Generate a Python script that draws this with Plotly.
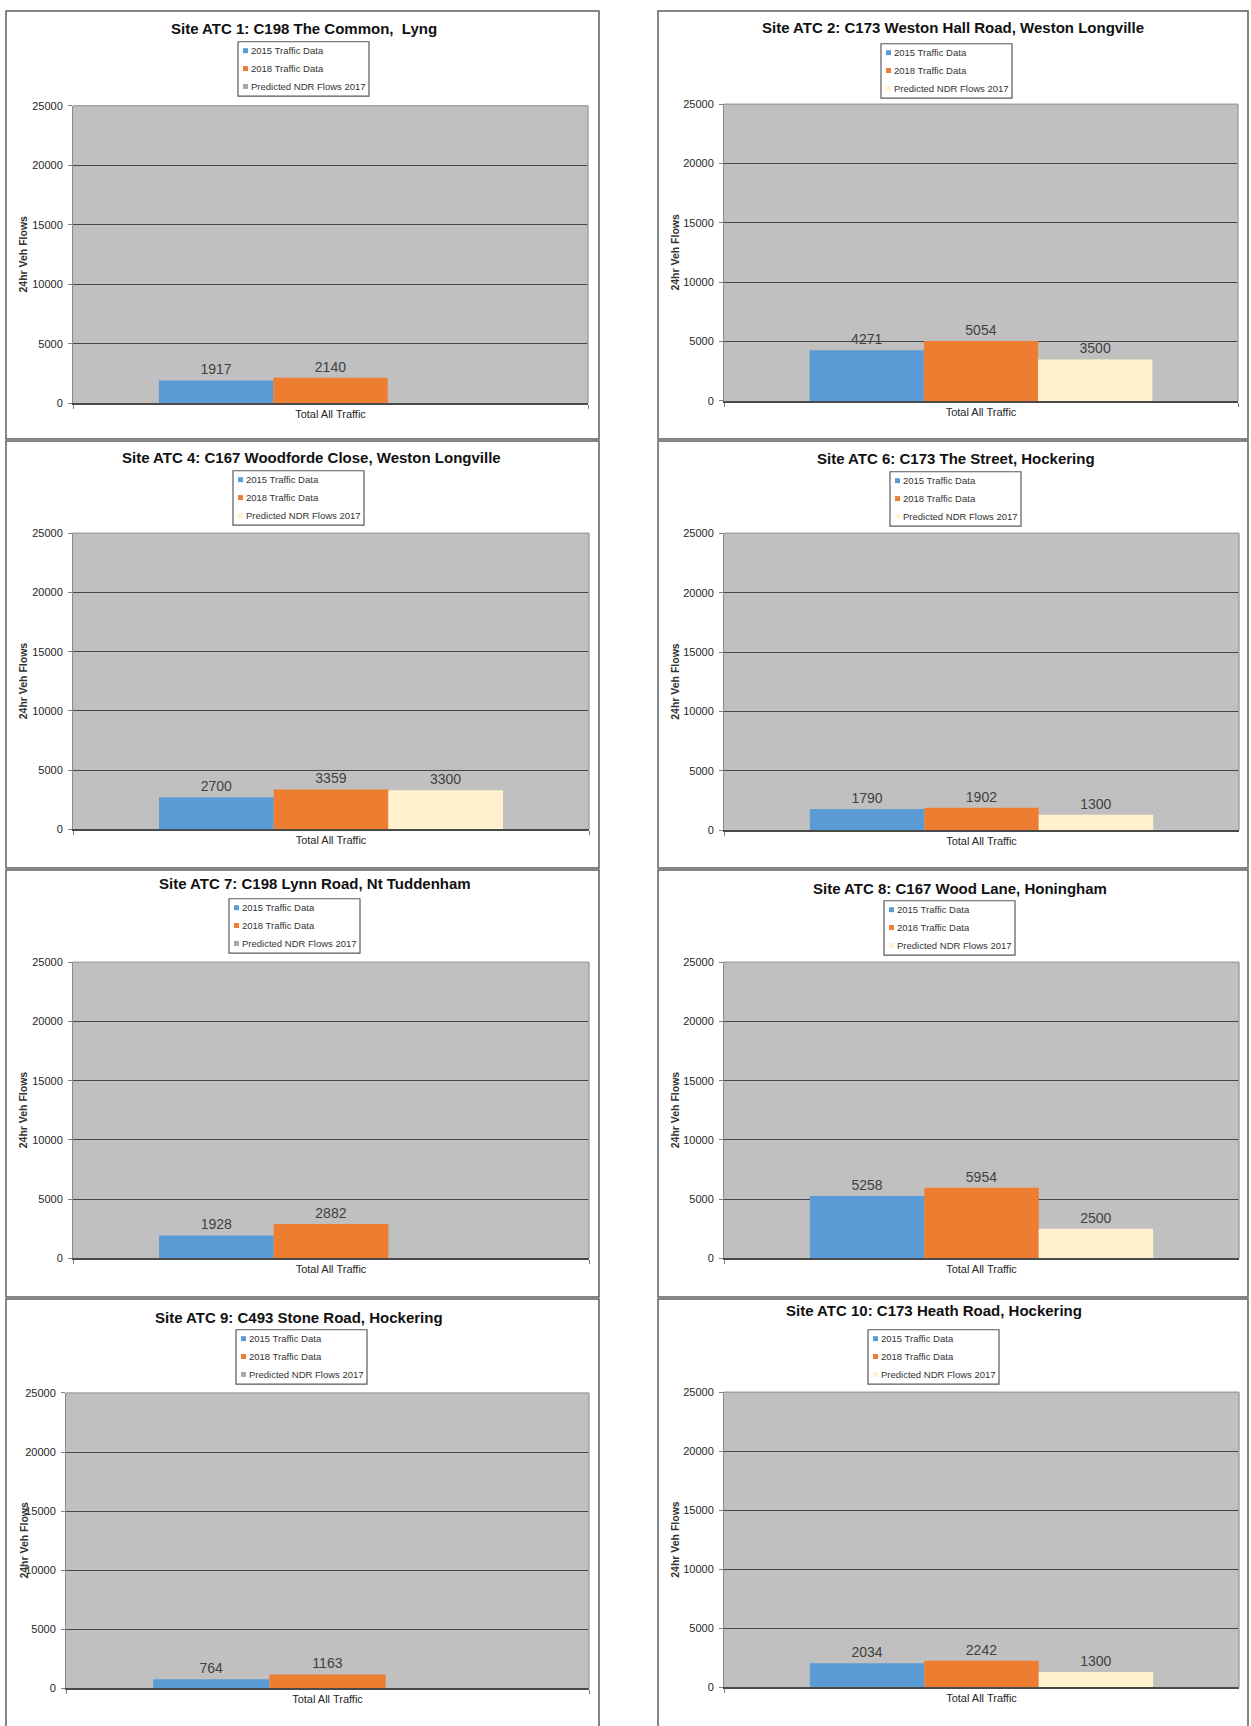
import plotly.graph_objects as go

W, H = 1251, 1726

# ---- data -------------------------------------------------------------
site_titles = [
    "Site ATC 1: C198 The Common,  Lyng",
    "Site ATC 2: C173 Weston Hall Road, Weston Longville",
    "Site ATC 4: C167 Woodforde Close, Weston Longville",
    "Site ATC 6: C173 The Street, Hockering",
    "Site ATC 7: C198 Lynn Road, Nt Tuddenham",
    "Site ATC 8: C167 Wood Lane, Honingham",
    "Site ATC 9: C493 Stone Road, Hockering",
    "Site ATC 10: C173 Heath Road, Hockering",
]
category = ["Total All Traffic"]
traffic_2015 = [1917, 4271, 2700, 1790, 1928, 5258, 764, 2034]
traffic_2018 = [2140, 5054, 3359, 1902, 2882, 5954, 1163, 2242]
ndr_2017 = [None, 3500, 3300, 1300, None, 2500, None, 1300]
series_names = ["2015 Traffic Data", "2018 Traffic Data", "Predicted NDR Flows 2017"]
y_ticks = [0, 5000, 10000, 15000, 20000, 25000]
y_title = "24hr Veh Flows"

# ---- styling ----------------------------------------------------------
FONT = "Liberation Sans, Arial, sans-serif"
C_2015 = "#5b9bd5"
C_2018 = "#ed7d31"
C_NDR = "#fff2cc"
C_EMPTY = "#a6a6a6"
PLOT_BG = "#c0c0c0"
GRID = "#454545"

# panel geometry in page pixels
# plot: (left, right, top, bottom); title centre; legend top-left; y-title x
panels = [
    dict(plot=(73, 588, 100.5, 400), title=(304, 23), legend=(238, 36), ytx=23),
    dict(plot=(724, 1238, 99, 397.7), title=(953, 22), legend=(881, 38), ytx=675),
    dict(plot=(73, 589, 531, 829), title=(311, 455), legend=(233, 468), ytx=23),
    dict(plot=(724, 1239, 531, 830), title=(956, 456), legend=(890, 469), ytx=675),
    dict(plot=(73, 589, 963, 1261), title=(315, 884), legend=(229, 899), ytx=23),
    dict(plot=(724, 1239, 963, 1261), title=(960, 889), legend=(884, 901), ytx=675),
    dict(plot=(66, 589, 1396.7, 1694), title=(299, 1321), legend=(236, 1333), ytx=24),
    dict(plot=(724, 1239, 1396, 1693), title=(934, 1314), legend=(868, 1333), ytx=675),
]
frames = [
    (6, 599, 5, 436), (658, 1248, 5, 436),
    (6, 599, 438, 868), (658, 1248, 438, 868),
    (6, 599, 870, 1300), (658, 1248, 870, 1300),
    (6, 599, 1302, 1740), (658, 1248, 1302, 1740),
]


def px(x):
    return x / W


def py(y):
    return 1 - y / H


fig = go.Figure()
shapes = []
annotations = []
layout_axes = {}

for i, p in enumerate(panels):
    n = i + 1
    xa, ya = f"x{n}", f"y{n}"
    xkey = "xaxis" if n == 1 else f"xaxis{n}"
    ykey = "yaxis" if n == 1 else f"yaxis{n}"
    l, r, t, b = p["plot"]

    values = [traffic_2015[i], traffic_2018[i], ndr_2017[i]]
    colors = [C_2015, C_2018, C_NDR]
    for name, v, c in zip(series_names, values, colors):
        fig.add_trace(go.Bar(
            x=category, y=[v], name=name, xaxis=xa, yaxis=ya,
            marker=dict(color=c, line=dict(width=0)),
            text=[str(v) if v is not None else ""],
            textposition="outside", cliponaxis=False,
            textfont=dict(family=FONT, size=14, color="#404040"),
            showlegend=False, hoverinfo="name+y",
        ))

    layout_axes[xkey] = dict(
        domain=[px(l), px(r)], anchor=ya, type="category",
        range=[-0.5, 0.5], showgrid=False, zeroline=False,
        showline=True, linecolor="#4a4a4a", linewidth=1.5,
        ticks="outside", tickson="boundaries", ticklen=4,
        tickcolor="#7f7f7f", tickfont=dict(family=FONT, size=11, color="#262626"),
        fixedrange=True,
    )
    layout_axes[ykey] = dict(
        domain=[py(b), py(t)], anchor=xa, range=[0, 25000],
        tickvals=y_ticks, ticktext=[str(v) for v in y_ticks],
        showgrid=True, gridcolor=GRID, gridwidth=1, zeroline=False,
        showline=True, linecolor="#8a8a8a", linewidth=1,
        ticks="outside", ticklen=4, tickcolor="#7f7f7f",
        ticklabelstandoff=3,
        tickfont=dict(family=FONT, size=11, color="#262626"),
        fixedrange=True,
    )

    # light frame on the top and right edge of the plot area
    shapes.append(dict(type="line", xref="paper", yref="paper",
                       x0=px(l), x1=px(r), y0=py(t), y1=py(t),
                       line=dict(color="#a3a3a3", width=1.5), layer="above"))
    shapes.append(dict(type="line", xref="paper", yref="paper",
                       x0=px(r), x1=px(r), y0=py(t), y1=py(b),
                       line=dict(color="#a3a3a3", width=1.5), layer="above"))

    # chart title
    tx, ty = p["title"]
    annotations.append(dict(
        text=f"<b>{site_titles[i]}</b>", x=px(tx), y=py(ty), xref="paper", yref="paper",
        xanchor="center", yanchor="middle", showarrow=False,
        font=dict(family=FONT, size=15, color="#111111"),
    ))

    # y-axis title
    annotations.append(dict(
        text=f"<b>{y_title}</b>", x=px(p["ytx"]), y=py((t + b) / 2), xref="paper", yref="paper",
        xanchor="center", yanchor="middle", textangle=-90, showarrow=False,
        font=dict(family=FONT, size=10.5, color="#333333"),
    ))

    # legend box
    lx, ly = p["legend"]
    lw, lh = 131, 54.7
    shapes.append(dict(type="rect", xref="paper", yref="paper",
                       x0=px(lx), x1=px(lx + lw), y0=py(ly + lh), y1=py(ly),
                       line=dict(color="#5a5a5a", width=1.2), fillcolor="white",
                       layer="above"))
    key_colors = [C_2015, C_2018, C_NDR if ndr_2017[i] is not None else C_EMPTY]
    for k, (name, c) in enumerate(zip(series_names, key_colors)):
        cy = ly + 9 + 18 * k
        shapes.append(dict(type="rect", xref="paper", yref="paper",
                           x0=px(lx + 5), x1=px(lx + 10), y0=py(cy + 2.5), y1=py(cy - 2.5),
                           line=dict(width=0), fillcolor=c, layer="above"))
        annotations.append(dict(
            text=name, x=px(lx + 11), y=py(cy), xref="paper", yref="paper",
            xanchor="left", yanchor="middle", showarrow=False,
            font=dict(family=FONT, size=9.5, color="#333333"),
        ))

# outer border of each chart panel
for (l, r, t, b) in frames:
    shapes.append(dict(type="rect", xref="paper", yref="paper",
                       x0=px(l), x1=px(r), y0=py(b), y1=py(t),
                       line=dict(color="#5e5e5e", width=1.5), layer="below"))

fig.update_layout(
    width=W, height=H, margin=dict(l=0, r=0, t=0, b=0),
    paper_bgcolor="white", plot_bgcolor=PLOT_BG,
    barmode="group", bargap=1 / 3, bargroupgap=0,
    showlegend=False, shapes=shapes, annotations=annotations,
    font=dict(family=FONT),
    **layout_axes,
)

fig.write_html(
    "out.html",
    config={"displayModeBar": False},
    post_script="document.body.style.margin='0';document.body.style.overflow='hidden';",
)
